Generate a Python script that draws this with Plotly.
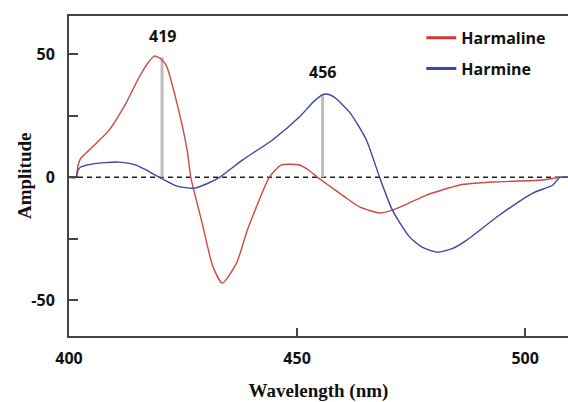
import plotly.graph_objects as go

# Harmaline (red) trace
harmaline_x = [400, 401.5, 402.0, 402.6, 405.1, 408.8, 412.5, 415.4, 417.5, 418.7, 420.0, 421.3, 423.5,
               425.9, 426.7, 429.2, 431.5, 433.6, 436.7, 439.0, 441.1, 443.9, 446.5, 450.5, 452.5,
               454.5, 457.5, 460.8, 463.7, 468.1, 470.9, 474.5, 478.4, 485.7, 492.9, 503.9, 507.6, 509.5]
harmaline_y = [0, 0, 5.0, 7.8, 12.3, 19.2, 30.2, 40.8, 47.0, 49.3, 48.3, 45.6, 31.4,
               11.1, 0, -18.6, -36.0, -43.0, -35.0, -22.0, -12.0, 0, 5.0, 5.0, 3.0,
               0, -4.0, -8.4, -12.0, -14.5, -13.3, -10.5, -7.2, -3.1, -1.9, -1.1, 0, 0]

# Harmine (blue) trace
harmine_x = [400, 401.5, 402.0, 402.6, 405.0, 408.0, 411.0, 414.7, 416.9, 419.8, 423.5, 425.5,
             427.5, 430.0, 433.0, 438.0, 444.6, 450.5, 453.5, 455.5, 456.4, 458.0, 461.5,
             465.2, 468.1, 470.9, 474.7, 477.5, 480.8, 484.0, 487.2, 494.4, 501.7, 506.1, 507.6, 509.5]
harmine_y = [0, 0, 3.0, 4.2, 5.4, 6.0, 6.2, 5.0, 3.0, 0, -3.5, -4.2,
             -4.4, -2.8, 0, 7.0, 15.2, 24.5, 30.5, 33.5, 33.9, 32.8, 26.5,
             15.2, 0, -13.3, -24.3, -28.5, -30.4, -29.0, -25.5, -15.3, -6.4, -3.1, 0, 0]

# Peak markers (label text, position, top of line)
peak_labels = ["419", "456"]
peak_x = [420.4, 455.6]
peak_top = [48.9, 33.9]
label_y = [57.4, 42.8]

x_ticks = [400, 450, 500]
y_ticks = [-50, -25, 0, 25, 50]
y_ticktext = ["-50", "", "0", "", "50"]

RED = "#cc4a40"
BLUE = "#3c46a0"
AXIS = "#444444"
TXT = "#111111"

fig = go.Figure()

for px, top in zip(peak_x, peak_top):
    fig.add_shape(type="line", x0=px, x1=px, y0=0, y1=top, xref="x", yref="y",
                  line=dict(color="#bdbdbd", width=3), layer="below")

fig.add_shape(type="line", x0=0, x1=1, y0=0, y1=0, xref="paper", yref="y",
              line=dict(color="#222222", width=1.5, dash="5px,4px"), layer="below")

fig.add_trace(go.Scatter(x=harmaline_x, y=harmaline_y, mode="lines", name="Harmaline",
                         line=dict(color=RED, width=1.4, shape="spline", smoothing=0.6),
                         showlegend=False))
fig.add_trace(go.Scatter(x=harmine_x, y=harmine_y, mode="lines", name="Harmine",
                         line=dict(color=BLUE, width=1.4, shape="spline", smoothing=0.6),
                         showlegend=False))
# legend entries with thicker strokes
fig.add_trace(go.Scatter(x=[None], y=[None], mode="lines", name="Harmaline",
                         line=dict(color="#d03a32", width=3), legendgroup="a"))
fig.add_trace(go.Scatter(x=[None], y=[None], mode="lines", name="Harmine",
                         line=dict(color="#3a48a8", width=3), legendgroup="b"))

for lab, px, ly in zip(peak_labels, peak_x, label_y):
    fig.add_annotation(x=px, y=ly, text=lab, showarrow=False, xref="x", yref="y",
                       font=dict(family="Open Sans", size=16, color=TXT, weight="bold"))

# y-axis title placed as a rotated annotation close to the tick labels
fig.add_annotation(x=-0.09, y=0.5, xref="paper", yref="paper", text="Amplitude",
                   textangle=-90, showarrow=False, xanchor="center", yanchor="middle",
                   font=dict(family="Liberation Serif", size=19, color=TXT, weight="bold"))

fig.update_layout(
    width=568, height=402,
    margin=dict(l=69, r=0, t=16, b=66, autoexpand=False),
    paper_bgcolor="white", plot_bgcolor="white",
    showlegend=True,
    legend=dict(x=0.706, y=0.985, xanchor="left", yanchor="top",
                font=dict(family="Open Sans", size=16, color=TXT, weight="bold"),
                bgcolor="rgba(0,0,0,0)", traceorder="grouped", tracegroupgap=7),
    font=dict(family="Open Sans", color=TXT),
)

fig.update_xaxes(range=[400, 509.4], tickvals=x_ticks, ticks="inside", ticklen=8,
                 tickwidth=1.5, tickcolor=AXIS, showline=True, linecolor=AXIS, linewidth=2,
                 mirror=True, showgrid=False, zeroline=False, ticklabelstandoff=7,
                 automargin=False,
                 tickfont=dict(family="Open Sans", size=16, color=TXT, weight="bold"),
                 title=dict(text="Wavelength (nm)", standoff=15,
                            font=dict(family="Liberation Serif", size=19, color=TXT, weight="bold")))
fig.update_yaxes(range=[-64.5, 65.6], tickvals=y_ticks, ticktext=y_ticktext, ticks="inside",
                 ticklen=9, tickwidth=1.5, tickcolor=AXIS, showline=True, linecolor=AXIS,
                 linewidth=2, showgrid=False, zeroline=False, ticklabelstandoff=9,
                 automargin=False,
                 tickfont=dict(family="Open Sans", size=16, color=TXT, weight="bold"))

fig.write_html("out.html", config={"displayModeBar": False},
               post_script="document.body.style.margin='0';document.body.style.overflow='hidden';")
